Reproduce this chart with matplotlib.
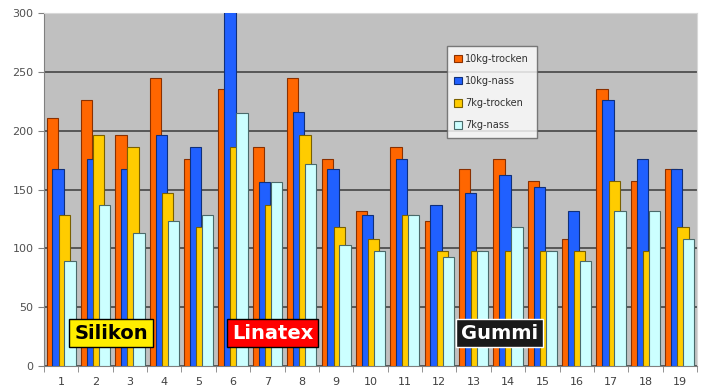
import numpy as np
from matplotlib import pyplot as plt

categories = [str(i) for i in range(1, 20)]
trocken_10kg = [211, 226, 196, 245, 176, 235, 186, 245, 176, 132, 186, 123, 167, 176, 157, 108, 235, 157, 167]
nass_10kg = [167, 176, 167, 196, 186, 310, 156, 216, 167, 128, 176, 137, 147, 162, 152, 132, 226, 176, 167]
trocken_7kg = [128, 196, 186, 147, 118, 186, 137, 196, 118, 108, 128, 98, 98, 98, 98, 98, 157, 98, 118]
nass_7kg = [89, 137, 113, 123, 128, 215, 156, 172, 103, 98, 128, 93, 98, 118, 98, 89, 132, 132, 108]

series = [
    ("10kg-trocken", trocken_10kg, "#ff6600", "#8a3000"),
    ("10kg-nass", nass_10kg, "#2060ff", "#10307a"),
    ("7kg-trocken", trocken_7kg, "#ffcc00", "#7a6000"),
    ("7kg-nass", nass_7kg, "#ccffff", "#4a6a6a"),
]
offsets = [-0.26, -0.09, 0.09, 0.26]
width = 0.33

fig = plt.figure(figsize=(7.01, 3.92), dpi=100)
ax = fig.add_axes([44 / 701, 26 / 392, 653 / 701, 353 / 392])
ax.set_facecolor("#c0c0c0")

x = np.arange(1, len(categories) + 1)
for (name, vals, col, edge), off in zip(series, offsets):
    ax.bar(x + off, vals, width=width, color=col, edgecolor=edge, linewidth=0.8,
           label=name, zorder=3)

ax.set_xlim(0.5, len(categories) + 0.5)
ax.set_ylim(0, 300)
ax.set_yticks(range(0, 301, 50))
ax.yaxis.grid(True, color="#454545", linewidth=1.2, zorder=1)
ax.set_axisbelow(True)

ax.set_xticks(x)
ax.set_xticklabels(categories, fontsize=8, color="#404040")
ax.set_xticks(np.arange(0.5, len(categories) + 1), minor=True)
ax.tick_params(axis="x", which="major", length=0, pad=8)
ax.tick_params(axis="x", which="minor", length=4, color="#808080")
ax.tick_params(axis="y", labelsize=8, labelcolor="#505050", color="#808080", length=4)

for side in ["top", "right"]:
    ax.spines[side].set_color("#d8d8d8")
for side in ["left", "bottom"]:
    ax.spines[side].set_color("#808080")

ax.text(2.45, 28, "Silikon", fontsize=14, fontweight="bold", color="black",
        ha="center", va="center", zorder=5,
        bbox=dict(boxstyle="square,pad=0.25", fc="#ffee00", ec="black", lw=1))
ax.text(7.15, 28, "Linatex", fontsize=14, fontweight="bold", color="white",
        ha="center", va="center", zorder=5,
        bbox=dict(boxstyle="square,pad=0.25", fc="#ff0000", ec="black", lw=1))
ax.text(13.75, 28, "Gummi", fontsize=14, fontweight="bold", color="white",
        ha="center", va="center", zorder=5,
        bbox=dict(boxstyle="square,pad=0.25", fc="#1a1a1a", ec="white", lw=1))

leg = ax.legend(loc="upper left", bbox_to_anchor=(0.609, 0.92), fontsize=7,
                frameon=True, fancybox=False, edgecolor="#606060",
                handlelength=0.8, handleheight=0.8, handletextpad=0.3,
                labelspacing=1.25, borderpad=0.8, labelcolor="#303030")
leg.get_frame().set_linewidth(1)
leg.set_zorder(6)

plt.savefig("out.png", dpi=100)
